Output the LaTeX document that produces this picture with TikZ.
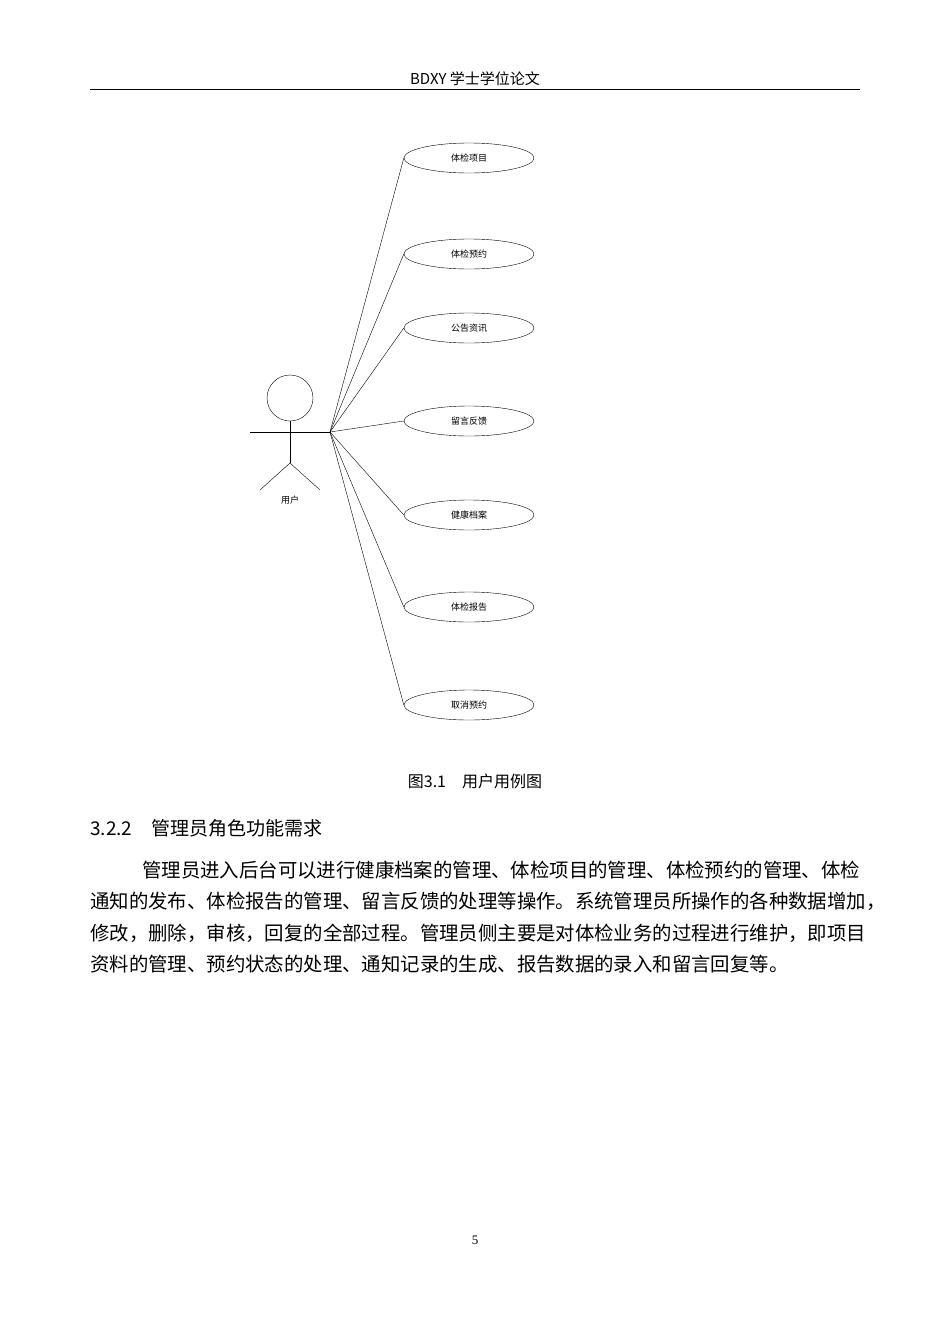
\documentclass[tikz,border=0pt]{standalone}
\usepackage{fontspec}
\usetikzlibrary{shapes.geometric}
\setmainfont{Liberation Serif}
\newfontfamily\cjk{Noto Sans CJK SC}
\begin{document}
\begin{tikzpicture}[x=1pt,y=-1pt,
  uc/.style={draw,ellipse,minimum width=130pt,minimum height=30pt,inner sep=0pt,font=\cjk\fontsize{9}{9}\selectfont},
  para/.style={anchor=west,inner sep=0pt,font=\cjk\fontsize{19.4}{20}\selectfont}]
\useasboundingbox (0,0) rectangle (950,1344);
\node[font=\cjk\fontsize{15}{15}\selectfont] (hdr) at (475,79) {BDXY 学士学位论文};
\draw[line width=1pt] (90,89) coordinate (hl) -- (860,89) coordinate (hr);
\foreach \n/\y/\t in {a/158/体检项目,b/254/体检预约,c/328/公告资讯,d/421/留言反馈,e/515/健康档案,f/607/体检报告,g/705/取消预约}
  \node[uc] (\n) at (469,\y) {\t};
\node[draw,circle,minimum size=46pt,inner sep=0pt] (head) at (290,398) {};
\coordinate (hip) at (290,463);
\coordinate (la) at (250,432); \coordinate (ra) at (330,432);
\coordinate (ll) at (260,490); \coordinate (rl) at (320,490);
\draw (head.south) -- (hip);
\draw (la) -- (ra);
\draw (ll) -- (hip) -- (rl);
\node[font=\cjk\fontsize{9}{9}\selectfont] (actor) at (290,500) {用户};
\foreach \n in {a,b,c,d,e,f,g} \draw (ra) -- (\n.west);
\node[font=\cjk\fontsize{16}{16}\selectfont] (cap) at (475,781) {图3.1\quad 用户用例图};
\node[para,font=\cjk\fontsize{19}{19}\selectfont] (h) at (90,828) {3.2.2\quad 管理员角色功能需求};
\node[para] (p1) at (142,870) {管理员进入后台可以进行健康档案的管理、体检项目的管理、体检预约的管理、体检};
\node[para] (p2) at (90,901) {通知的发布、体检报告的管理、留言反馈的处理等操作。系统管理员所操作的各种数据增加，};
\node[para] (p3) at (90,933) {修改，删除，审核，回复的全部过程。管理员侧主要是对体检业务的过程进行维护，即项目};
\node[para] (p4) at (90,964) {资料的管理、预约状态的处理、通知记录的生成、报告数据的录入和留言回复等。};
\node[font=\fontsize{13}{13}\selectfont] (pg) at (475,1240) {5};
\end{tikzpicture}
\end{document}
